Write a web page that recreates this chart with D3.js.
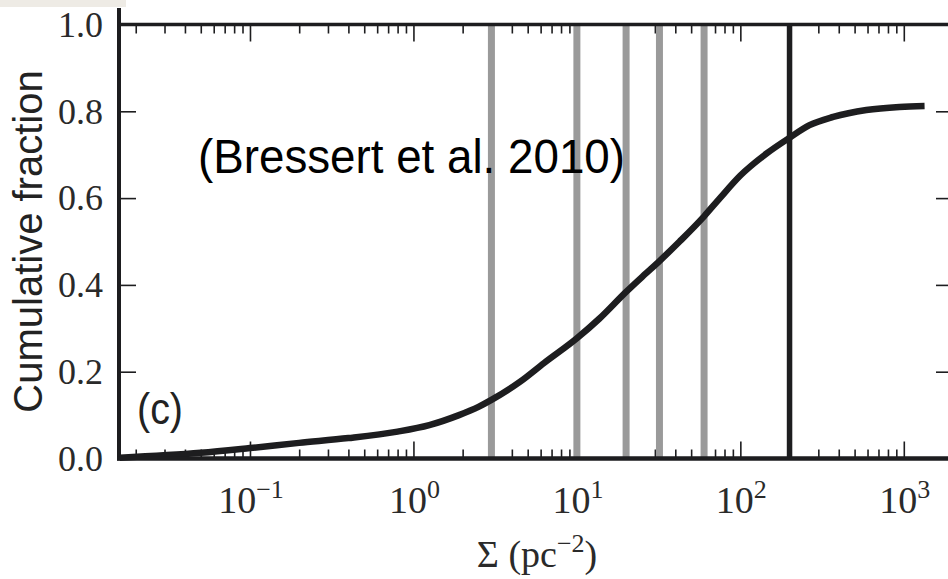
<!DOCTYPE html>
<html><head><meta charset="utf-8">
<script src="https://cdn.jsdelivr.net/npm/d3@7"></script>
<style>
html,body{margin:0;padding:0;background:#fff;}
svg{display:block;}
</style></head>
<body>
<svg id="chart" width="948" height="579"></svg>
<script>
// ---- data ----
const sigma    = [0.016, 0.05, 0.1, 0.2, 0.4, 0.8, 1.25, 1.9, 2.5, 3, 4.5, 6.3, 10, 13.7, 20, 26, 32, 42.5, 60, 75, 100, 145, 200, 265, 370, 590, 940, 1340];
const cumFrac  = [0.002, 0.013, 0.024, 0.036, 0.047, 0.062, 0.077, 0.100, 0.119, 0.135, 0.177, 0.220, 0.277, 0.322, 0.384, 0.424, 0.455, 0.500, 0.558, 0.600, 0.652, 0.703, 0.739, 0.768, 0.787, 0.803, 0.810, 0.812];
const grayLines  = [3, 10, 20, 32, 60];
const blackLines = [200];
const xMajor = [0.1, 1, 10, 100, 1000];
const xExp   = ["\u22121", "0", "1", "2", "3"];
const yTicks = [0.0, 0.2, 0.4, 0.6, 0.8, 1.0];
const yLabels = ["0.0", "0.2", "0.4", "0.6", "0.8", "1.0"];
const xDomain = [0.0158, 2000];

const svg = d3.select("#chart");
const L = 119, R = 953, T = 24.5, B = 458.5;
const x = d3.scaleLog().domain(xDomain).range([L, R]);
const y = d3.scaleLinear().domain([0, 1]).range([B, T]);

const ink = "#1d1d1f";
const serif = "'Liberation Serif', 'Times New Roman', serif";
const sans = "'Liberation Sans', Arial, Helvetica, sans-serif";

// top-left slide artifact
svg.append("rect").attr("x", 0).attr("y", 0).attr("width", 126).attr("height", 7).attr("fill", "#eeebe5");

// minor ticks
const minors = [];
for (let e = -2; e <= 3; e++) for (let m = 2; m <= 9; m++) {
  const v = m * Math.pow(10, e);
  if (v > xDomain[0] && v < xDomain[1]) minors.push(v);
}

function styleAxis(g) {
  g.select(".domain").remove();
  g.selectAll(".tick line").attr("stroke", ink).attr("stroke-width", 1.6);
  g.selectAll(".tick text").remove();
}
svg.append("g").attr("transform", `translate(0,${B})`)
  .call(d3.axisTop(x).tickValues(xMajor).tickSize(17).tickFormat("")).call(styleAxis);
svg.append("g").attr("transform", `translate(0,${B})`)
  .call(d3.axisTop(x).tickValues(minors).tickSize(9).tickFormat("")).call(styleAxis);
svg.append("g").attr("transform", `translate(0,${T})`)
  .call(d3.axisBottom(x).tickValues(xMajor).tickSize(17).tickFormat("")).call(styleAxis);
svg.append("g").attr("transform", `translate(0,${T})`)
  .call(d3.axisBottom(x).tickValues(minors).tickSize(9).tickFormat("")).call(styleAxis);
svg.append("g").attr("transform", `translate(${L},0)`)
  .call(d3.axisRight(y).tickValues(yTicks).tickSize(17).tickFormat("")).call(styleAxis);
svg.append("g").attr("transform", `translate(${R},0)`)
  .call(d3.axisLeft(y).tickValues(yTicks).tickSize(17).tickFormat("")).call(styleAxis);

// reference vertical lines
svg.selectAll("line.gray").data(grayLines).enter().append("line")
  .attr("x1", d => x(d)).attr("x2", d => x(d)).attr("y1", T).attr("y2", B)
  .attr("stroke", "#9a9a9a").attr("stroke-width", 7);
svg.selectAll("line.blk").data(blackLines).enter().append("line")
  .attr("x1", d => x(d)).attr("x2", d => x(d)).attr("y1", T).attr("y2", B)
  .attr("stroke", ink).attr("stroke-width", 5.5);

// curve
const pts = sigma.map((s, i) => [s, cumFrac[i]]);
svg.append("path").datum(pts)
  .attr("d", d3.line().x(d => x(d[0])).y(d => y(d[1])).curve(d3.curveMonotoneX))
  .attr("fill", "none").attr("stroke", ink).attr("stroke-width", 6.5)
  .attr("stroke-linejoin", "round");

// frame
svg.append("line").attr("x1", L).attr("x2", L).attr("y1", 8).attr("y2", B + 2).attr("stroke", ink).attr("stroke-width", 4);
svg.append("line").attr("x1", L).attr("x2", R).attr("y1", T).attr("y2", T).attr("stroke", ink).attr("stroke-width", 3.5);
svg.append("line").attr("x1", L - 2).attr("x2", R).attr("y1", B).attr("y2", B).attr("stroke", ink).attr("stroke-width", 4.5);
svg.append("line").attr("x1", R).attr("x2", R).attr("y1", T).attr("y2", B).attr("stroke", ink).attr("stroke-width", 4);

// y tick labels
svg.selectAll("text.yl").data(yTicks).enter().append("text")
  .attr("x", 103).attr("y", d => y(d)).attr("dy", "0.34em")
  .attr("text-anchor", "end").attr("font-family", serif).attr("font-size", 36)
  .attr("fill", "#2a2a2a").text((d, i) => yLabels[i]);

// x tick labels with superscript exponents
const xl = svg.selectAll("text.xl").data(xMajor).enter().append("text")
  .attr("x", d => x(d) + 1).attr("y", 513).attr("text-anchor", "middle")
  .attr("font-family", serif).attr("font-size", 38).attr("fill", "#2a2a2a");
xl.append("tspan").text("10");
xl.append("tspan").attr("dy", -15).attr("font-size", 26).text((d, i) => xExp[i]);

// x axis label
const xt = svg.append("text").attr("x", 537).attr("y", 567).attr("text-anchor", "middle")
  .attr("font-family", serif).attr("font-size", 38).attr("fill", "#2a2a2a");
xt.append("tspan").text("\u03A3 (pc");
xt.append("tspan").attr("dy", -15).attr("font-size", 26).text("\u22122");
xt.append("tspan").attr("dy", 15).text(")");

// y axis label
svg.append("text").attr("transform", "translate(42,241.5) rotate(-90)")
  .attr("text-anchor", "middle").attr("font-family", sans).attr("font-size", 40)
  .attr("fill", "#222").text("Cumulative fraction");

// annotations
svg.append("text").attr("x", 198).attr("y", 173).attr("font-family", sans).attr("font-size", 48)
  .attr("textLength", 427).attr("lengthAdjust", "spacingAndGlyphs")
  .attr("fill", "#000").text("(Bressert et al. 2010)");
svg.append("text").attr("x", 137).attr("y", 424).attr("font-family", sans).attr("font-size", 44)
  .attr("textLength", 46).attr("lengthAdjust", "spacingAndGlyphs")
  .attr("fill", "#222").text("(c)");
</script>
</body></html>
